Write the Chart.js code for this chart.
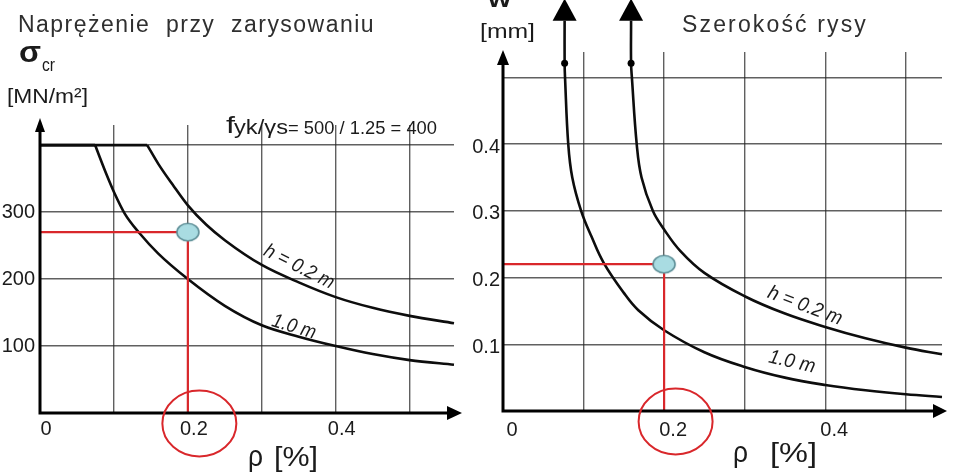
<!DOCTYPE html>
<html>
<head>
<meta charset="utf-8">
<script src="https://cdn.jsdelivr.net/npm/chart.js@4.4.1/dist/chart.umd.min.js"></script>
<style>
  body { margin: 0; background: #fff; width: 953px; height: 476px; overflow: hidden; position: relative; }
  .panel { position: absolute; top: 0; height: 476px; }
  #leftPanel { left: 0; width: 470px; }
  #rightPanel { left: 470px; width: 483px; }
</style>
</head>
<body>
<div class="panel" id="leftPanel"><canvas id="stressChart" width="470" height="476"></canvas></div>
<div class="panel" id="rightPanel"><canvas id="crackChart" width="483" height="476"></canvas></div>
<script>
// ---- data ----
const rhoGrid = [0, 0.1, 0.2, 0.3, 0.4, 0.5];
const rhoLabels = [0, 0.2, 0.4];
const sigmaGrid = [0, 100, 200, 300, 400];
const sigmaLabels = [100, 200, 300];
const wGrid = [0, 0.1, 0.2, 0.3, 0.4, 0.5];
const wLabels = [0.1, 0.2, 0.3, 0.4];

// left: cracking stress sigma_cr [MN/m2] vs rho [%]
const sigmaRho02 = [0, 0.145, 0.16, 0.18, 0.2, 0.225, 0.25, 0.3, 0.35, 0.4, 0.45, 0.5, 0.56];
const sigmaVal02 = [400, 400, 372, 340, 310, 281, 258, 221, 195, 173, 157, 145, 134];
const sigmaRho10 = [0, 0.0745, 0.09, 0.1, 0.115, 0.135, 0.16, 0.2, 0.25, 0.3, 0.35, 0.4, 0.45, 0.5, 0.56];
const sigmaVal10 = [400, 400, 356, 330, 297, 268, 238, 200, 160, 131, 114, 100, 88, 79, 72];

// right: crack width w [mm] vs rho [%] (first point = arrow top, second = dot on the shaft)
const wRho02 = [0.159, 0.159, 0.16, 0.166, 0.172, 0.186, 0.2, 0.22, 0.25, 0.3, 0.35, 0.4, 0.45, 0.5, 0.545];
const wVal02 = [0.585, 0.521, 0.5, 0.4, 0.35, 0.3, 0.272, 0.24, 0.207, 0.172, 0.146, 0.126, 0.109, 0.095, 0.085];
const wRho10 = [0.0765, 0.0765, 0.077, 0.081, 0.086, 0.097, 0.11, 0.125, 0.15, 0.168, 0.2, 0.25, 0.3, 0.35, 0.4, 0.45, 0.5, 0.545];
const wVal10 = [0.585, 0.521, 0.5, 0.4, 0.35, 0.3, 0.261, 0.222, 0.177, 0.151, 0.121, 0.088, 0.066, 0.05, 0.039, 0.031, 0.025, 0.021];

// the worked example
const readRho = 0.2;
const readSigma = 270;
const readW = 0.22;

// ---- styling ----
const ink = '#1b1b1b';
const red = '#d9272b';
const gridColor = 'rgba(35,35,35,0.72)';
const sans = "'Liberation Sans', Arial, sans-serif";

const pts = (xs, ys) => xs.map((x, i) => ({ x: x, y: ys[i] }));

// light blue ellipse used as the point style of the reading marker
const blob = document.createElement('canvas');
blob.width = 26; blob.height = 22;
(function () {
  const d = blob.getContext('2d');
  d.beginPath();
  d.ellipse(13, 11, 11, 8.8, 0, 0, Math.PI * 2);
  d.fillStyle = '#a9dce2';
  d.fill();
  d.lineWidth = 1.6;
  d.strokeStyle = '#5e8f97';
  d.stroke();
})();

function fitText(ctx, txt, x, y, w, font, color) {
  ctx.save();
  ctx.font = font;
  ctx.fillStyle = color || ink;
  ctx.textAlign = 'left';
  ctx.textBaseline = 'alphabetic';
  const m = ctx.measureText(txt).width;
  ctx.translate(x, y);
  ctx.scale(w / m, 1);
  ctx.fillText(txt, 0, 0);
  ctx.restore();
}

function spacedText(ctx, txt, x, y, w, font, color) {
  ctx.save();
  ctx.font = font;
  ctx.fillStyle = color || ink;
  ctx.textAlign = 'left';
  ctx.textBaseline = 'alphabetic';
  const m = ctx.measureText(txt).width;
  if ('letterSpacing' in ctx) {
    ctx.letterSpacing = ((w - m) / txt.length) + 'px';
    ctx.fillText(txt, x, y);
  } else {
    ctx.translate(x, y);
    ctx.scale(w / m, 1);
    ctx.fillText(txt, 0, 0);
  }
  ctx.restore();
}

function slantText(ctx, txt, cx, cy, deg, w, font) {
  ctx.save();
  ctx.font = font;
  ctx.fillStyle = ink;
  ctx.textAlign = 'center';
  ctx.textBaseline = 'middle';
  const m = ctx.measureText(txt).width;
  ctx.translate(cx, cy);
  ctx.rotate(deg * Math.PI / 180);
  ctx.scale(w / m, 1);
  ctx.fillText(txt, 0, 0);
  ctx.restore();
}

function arrowHead(ctx, tipX, tipY, dir, len, half) {
  ctx.beginPath();
  if (dir === 'up') {
    ctx.moveTo(tipX, tipY);
    ctx.lineTo(tipX - half, tipY + len);
    ctx.lineTo(tipX + half, tipY + len);
  } else {
    ctx.moveTo(tipX, tipY);
    ctx.lineTo(tipX - len, tipY - half);
    ctx.lineTo(tipX - len, tipY + half);
  }
  ctx.closePath();
  ctx.fill();
}

// axes with arrowheads + red ring round the 0.2 tick label
function axesPlugin(yTip, xTip, yHead, xHead) {
  return {
    id: 'arrowAxes',
    afterDraw(chart) {
      const ctx = chart.ctx;
      const a = chart.chartArea;
      const xs = chart.scales.x;
      ctx.save();
      ctx.strokeStyle = '#000';
      ctx.fillStyle = '#000';
      ctx.lineWidth = 3;
      ctx.beginPath();
      ctx.moveTo(a.left, a.bottom + 1.5);
      ctx.lineTo(a.left, a.top - yTip + yHead[0] - 1);
      ctx.moveTo(a.left - 1.5, a.bottom);
      ctx.lineTo(a.right + xTip - xHead[0] + 1, a.bottom);
      ctx.stroke();
      arrowHead(ctx, a.left, a.top - yTip, 'up', yHead[0], yHead[1]);
      arrowHead(ctx, a.right + xTip, a.bottom, 'right', xHead[0], xHead[1]);

      ctx.strokeStyle = red;
      ctx.lineWidth = 2;
      ctx.beginPath();
      ctx.ellipse(xs.getPixelForValue(readRho) + 11.5, a.bottom + 10.5, 37, 33, 0, 0, Math.PI * 2);
      ctx.stroke();
      ctx.restore();
    }
  };
}

// arrowheads on top of the two crack-width curves
const curveArrows = {
  id: 'curveArrows',
  afterDatasetsDraw(chart) {
    const ctx = chart.ctx;
    ctx.save();
    ctx.fillStyle = '#000';
    [2, 3].forEach(i => {
      const p = chart.getDatasetMeta(i).data[0];
      arrowHead(ctx, p.x, p.y - 22, 'up', 22, 12);
    });
    ctx.restore();
  }
};

const leftText = {
  id: 'leftText',
  afterDraw(chart) {
    const ctx = chart.ctx;
    spacedText(ctx, 'Naprężenie  przy  zarysowaniu', 18, 32, 357, '23px ' + sans, '#2f2f2f');
    fitText(ctx, 'σ', 19, 62, 22, 'bold 29px ' + sans);
    fitText(ctx, 'cr', 42, 71, 13, '18px ' + sans);
    fitText(ctx, '[MN/m²]', 7, 103, 81, '21px ' + sans);
    fitText(ctx, 'f', 226, 133, 9, '24px ' + sans);
    fitText(ctx, 'yk/γs', 234, 134, 54, '21px ' + sans);
    fitText(ctx, '= 500 / 1.25 = 400', 288, 134, 149, '19px ' + sans);
    fitText(ctx, 'ρ', 248, 466, 15, '29px ' + sans);
    fitText(ctx, '[%]', 274, 466, 44, '28px ' + sans);
    slantText(ctx, 'h = 0.2 m', 299, 267, 27, 76, 'italic 20px ' + sans);
    slantText(ctx, '1.0 m', 294, 327, 17, 45, 'italic 20px ' + sans);
  }
};

const rightText = {
  id: 'rightText',
  afterDraw(chart) {
    const ctx = chart.ctx;
    fitText(ctx, 'w', 18, 7, 23, 'bold 24px ' + sans);
    fitText(ctx, '[mm]', 10, 38, 55, '21px ' + sans);
    spacedText(ctx, 'Szerokość rysy', 212, 32, 186, '23px ' + sans, '#2f2f2f');
    fitText(ctx, 'ρ', 263, 462, 15, '29px ' + sans);
    fitText(ctx, '[%]', 300, 462, 47, '28px ' + sans);
    slantText(ctx, 'h = 0.2 m', 335, 306, 21, 78, 'italic 20px ' + sans);
    slantText(ctx, '1.0 m', 322, 362, 13, 47, 'italic 20px ' + sans);
  }
};

function curve(data, mode) {
  return {
    data: data,
    borderColor: '#0d0d0d',
    borderWidth: 2.6,
    pointRadius: 0,
    fill: false,
    clip: false,
    tension: mode === 'monotone' ? 0 : 0.4,
    cubicInterpolationMode: mode === 'monotone' ? 'monotone' : 'default'
  };
}

function guide(data) {
  return { data: data, borderColor: red, borderWidth: 2.2, pointRadius: 0, tension: 0, fill: false, clip: false };
}

function marker(data) {
  return { data: data, showLine: false, pointStyle: blob, pointRadius: 10, clip: false };
}

function scaleOpts(min, max, grid, labels, tickOpts, fitSize, horizontal) {
  return {
    type: 'linear',
    min: min,
    max: max,
    border: { display: false },
    grid: {
      drawTicks: false,
      lineWidth: 1.4,
      color: c => (c.tick && c.tick.value === 0) ? 'rgba(0,0,0,0)' : gridColor
    },
    afterBuildTicks: s => { s.ticks = grid.map(v => ({ value: v })); },
    afterFit: s => {
      if (horizontal) s.height = fitSize; else s.width = fitSize;
      s.paddingLeft = 0; s.paddingRight = 0; s.paddingTop = 0; s.paddingBottom = 0;
    },
    ticks: Object.assign({
      autoSkip: false,
      maxRotation: 0,
      color: ink,
      font: { family: sans, size: 20 },
      callback: v => labels.includes(v) ? String(v) : ''
    }, tickOpts)
  };
}

const common = {
  responsive: false,
  animation: false,
  events: [],
  plugins: { legend: { display: false }, tooltip: { enabled: false } }
};

// left: crack stress
new Chart(document.getElementById('stressChart'), {
  type: 'line',
  data: {
    datasets: [
      marker([{ x: readRho, y: readSigma }]),
      guide([{ x: 0, y: readSigma }, { x: readRho, y: readSigma }, { x: readRho, y: 0 }]),
      curve(pts(sigmaRho02.slice(0, 2), sigmaVal02.slice(0, 2)), 'monotone'),
      curve(pts(sigmaRho02.slice(1), sigmaVal02.slice(1)), 'monotone'),
      curve(pts(sigmaRho10.slice(0, 2), sigmaVal10.slice(0, 2)), 'monotone'),
      curve(pts(sigmaRho10.slice(1), sigmaVal10.slice(1)), 'monotone')
    ]
  },
  options: Object.assign({}, common, {
    layout: { padding: { top: 125, right: 16, left: 0, bottom: 0 } },
    scales: {
      x: scaleOpts(0, 0.56, rhoGrid, rhoLabels, { padding: 4, labelOffset: 6 }, 63, true),
      y: scaleOpts(0, 430, sigmaGrid, sigmaLabels, { padding: 5 }, 40, false)
    }
  }),
  plugins: [axesPlugin(7, 8, [14, 5], [15, 7]), leftText]
});

// right: crack width
new Chart(document.getElementById('crackChart'), {
  type: 'line',
  data: {
    datasets: [
      marker([{ x: readRho, y: readW }]),
      guide([{ x: 0, y: readW }, { x: readRho, y: readW }, { x: readRho, y: 0 }]),
      Object.assign(curve(pts(wRho10, wVal10), 'spline'), { pointRadius: c => c.dataIndex === 1 ? 3.5 : 0, pointBackgroundColor: '#000', pointBorderWidth: 0 }),
      Object.assign(curve(pts(wRho02, wVal02), 'spline'), { pointRadius: c => c.dataIndex === 1 ? 3.5 : 0, pointBackgroundColor: '#000', pointBorderWidth: 0 })
    ]
  },
  options: Object.assign({}, common, {
    layout: { padding: { top: 52, right: 5, left: 0, bottom: 0 } },
    scales: {
      x: scaleOpts(0, 0.545, rhoGrid, rhoLabels, { padding: 7, labelOffset: 9 }, 65, true),
      y: scaleOpts(0, 0.538, wGrid, wLabels, { padding: 3, labelOffset: 3 }, 33, false)
    }
  }),
  plugins: [axesPlugin(2, 5, [15, 6], [14, 7]), curveArrows, rightText]
});
</script>
</body>
</html>
